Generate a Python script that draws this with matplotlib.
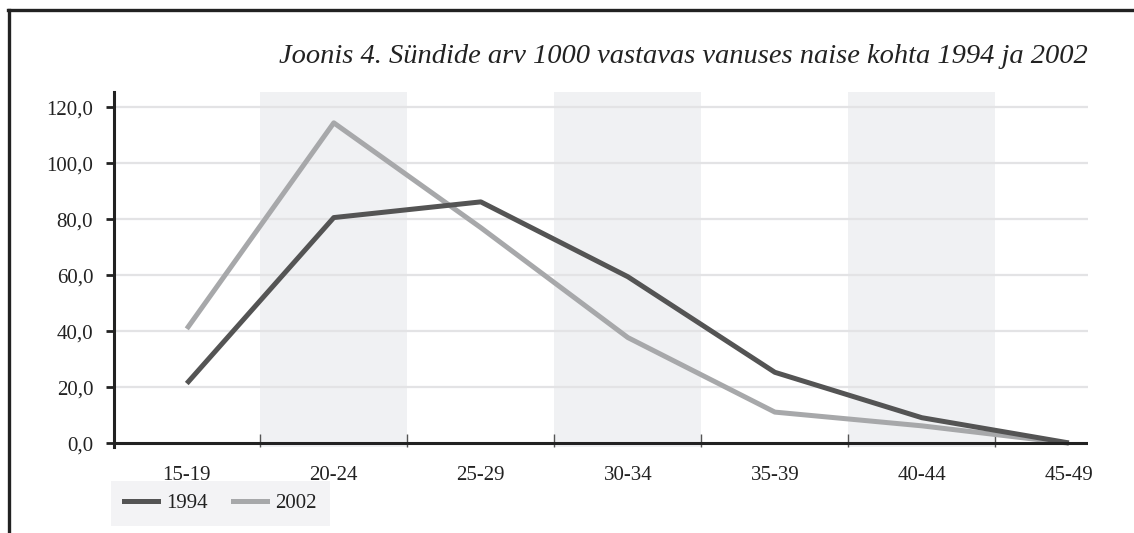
import matplotlib
matplotlib.use("Agg")
import matplotlib.pyplot as plt
from matplotlib.lines import Line2D

categories = ["15-19", "20-24", "25-29", "30-34", "35-39", "40-44", "45-49"]
values_1994 = [21.4, 80.6, 86.2, 59.5, 25.4, 9.2, 0.2]
values_2002 = [40.9, 114.4, 77.0, 37.8, 11.2, 6.3, 0.1]
series_labels = ["1994", "2002"]
yticks = [0, 20, 40, 60, 80, 100, 120]
title = "Joonis 4. Sündide arv 1000 vastavas vanuses naise kohta 1994 ja 2002"

W, H = 1134, 533
fig = plt.figure(figsize=(W / 100, H / 100), dpi=100)
plt.rcParams['font.family'] = ['Liberation Serif', 'DejaVu Serif']

def fx(px):
    return px / W

def fy(py):
    return 1 - py / H

ax = fig.add_axes([fx(114), fy(447), fx(1088) - fx(114), fy(92) - fy(447)])

n = len(categories)
x = list(range(n))
ax.set_xlim(-0.495, 6.13)
ax.set_ylim(-1.25, 125.4)

# shaded bands for alternating categories
for i in range(n):
    if i % 2 == 1:
        ax.axvspan(i - 0.5, i + 0.5, color="#f0f1f3", zorder=0, lw=0)

# gridlines
for t in yticks[1:]:
    ax.axhline(t, color="#e3e3e5", lw=1.6, zorder=1)

ax.plot(x, values_2002, color="#a7a8aa", lw=3.6, zorder=3, solid_capstyle="butt")
ax.plot(x, values_1994, color="#545454", lw=3.6, zorder=4, solid_capstyle="butt")

# x axis line
ax.axhline(0, color="#222222", lw=2.2, zorder=5)

for s in ["top", "right", "bottom"]:
    ax.spines[s].set_visible(False)
ax.spines["left"].set_color("#222222")
ax.spines["left"].set_linewidth(2.2)
ax.spines["left"].set_zorder(6)

ax.set_yticks(yticks)
ax.set_yticklabels([f"{t:.1f}".replace(".", ",") for t in yticks])
ax.tick_params(axis="y", length=6, width=2, color="#222222", pad=9, labelsize=15,
               labelcolor="#222222")

# category boundary ticks (major, no labels) + category labels (minor)
ax.set_xticks([i + 0.5 for i in range(n - 1)])
ax.set_xticklabels([])
ax.tick_params(axis="x", which="major", direction="in", length=9.5, width=1,
               color="#555555")
ax.set_xticks(x, minor=True)
ax.set_xticklabels(categories, minor=True)
ax.tick_params(axis="x", which="minor", length=0, pad=14, labelsize=15,
               labelcolor="#222222")

# title
fig.text(fx(1088), fy(63), title, ha="right", va="baseline", fontsize=20.5,
         style="italic", color="#222222")

# legend
handles = [Line2D([], [], color="#545454", lw=3.6),
           Line2D([], [], color="#a7a8aa", lw=3.6)]
leg = fig.legend(handles, series_labels, loc="upper left",
                 bbox_to_anchor=(fx(111), fy(481)),
                 ncol=2, frameon=True, fancybox=False, fontsize=15,
                 handlelength=1.65, handletextpad=0.4, columnspacing=1.2,
                 borderpad=0.6, borderaxespad=0)
leg.get_frame().set_facecolor("#f0f1f3")
leg.get_frame().set_edgecolor("#f0f1f3")
leg.get_frame().set_linewidth(0)
for t in leg.get_texts():
    t.set_color("#222222")

# outer frame lines (top and left)
fig.add_artist(Line2D([fx(8), fx(1134)], [fy(9.5), fy(9.5)], color="#222222", lw=2.4,
                      transform=fig.transFigure))
fig.add_artist(Line2D([fx(8.5), fx(8.5)], [fy(9.5), fy(533)], color="#222222", lw=2.4,
                      transform=fig.transFigure))

fig.savefig("out.png", dpi=100, facecolor="white")
